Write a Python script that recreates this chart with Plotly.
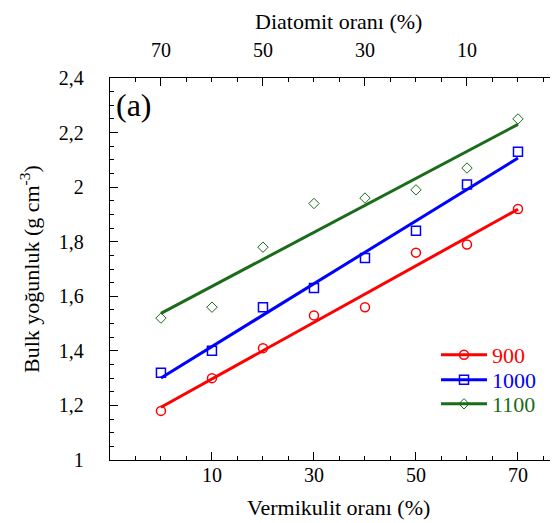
import numpy as np
import plotly.graph_objects as go

# ---- data ----
vermikulit = [0, 10, 20, 30, 40, 50, 60, 70]
bulk_900 = [1.18, 1.30, 1.41, 1.53, 1.56, 1.76, 1.79, 1.92]
bulk_1000 = [1.32, 1.40, 1.56, 1.63, 1.74, 1.84, 2.01, 2.13]
bulk_1100 = [1.52, 1.56, 1.78, 1.94, 1.96, 1.99, 2.07, 2.25]
series_names = ["900", "1000", "1100"]

colors = ["#ff0000", "#0000ff", "#1a6b1a"]
symbols = ["circle-open", "square-open", "diamond-open"]
msizes = [9, 9, 8]
mwidths = [1.5, 1.5, 1.0]

W, H = 558, 523
L, R, T, B = 102, 0, 70, 71
PW, PH = W - L - R, H - T - B
FONT = "Liberation Serif"

fig = go.Figure()
xs = np.array(vermikulit, dtype=float)
legend_ids = ["legend", "legend2", "legend3"]
legend_py = [347, 372, 396]
layout_legends = {}
for i, (name, vals, c, s, ms, mw) in enumerate(zip(series_names, [bulk_900, bulk_1000, bulk_1100],
                                                   colors, symbols, msizes, mwidths)):
    k, b0 = np.polyfit(xs, np.array(vals), 1)
    xe = [xs.min(), xs.max()]
    fig.add_trace(go.Scatter(x=xe, y=[k * v + b0 for v in xe], mode="lines",
                             line=dict(color=c, width=3), showlegend=False,
                             hoverinfo="skip"))
    fig.add_trace(go.Scatter(x=vermikulit, y=vals, mode="markers",
                             marker=dict(symbol=s, size=ms, color=c, line=dict(width=mw, color=c)),
                             showlegend=False, name=name))
    fig.add_trace(go.Scatter(x=[None], y=[None], mode="lines+markers",
                             line=dict(color=c, width=3), legend=legend_ids[i],
                             marker=dict(symbol=s, size=ms, color=c, line=dict(width=mw, color=c)),
                             name=f"<span style='color:{c}'>{name}</span>"))
    layout_legends[legend_ids[i]] = dict(
        x=(428 - L) / PW, y=(H - B - legend_py[i]) / PH, xanchor="left", yanchor="middle",
        bgcolor="rgba(0,0,0,0)", font=dict(family=FONT, size=22), itemwidth=46)

# invisible traces to activate top / right axes
fig.add_trace(go.Scatter(x=[None], y=[None], xaxis="x2", yaxis="y", showlegend=False))
fig.add_trace(go.Scatter(x=[None], y=[None], xaxis="x", yaxis="y2", showlegend=False))

xr = [-9.99, PW / 5.1 - 10]
tickfont = dict(family=FONT, size=20, color="black")
common = dict(showline=True, linecolor="black", linewidth=1.3, ticks="inside",
              tickcolor="black", ticklen=8, tickwidth=1.3, showgrid=False,
              zeroline=False, tickfont=tickfont)
minor = dict(ticks="inside", ticklen=4, tickcolor="black", tickwidth=1.1, showgrid=False)

fig.update_layout(
    width=W, height=H, margin=dict(l=L, r=R, t=T, b=B),
    paper_bgcolor="white", plot_bgcolor="white",
    separators=", ",
    font=dict(family=FONT, color="black"),
    xaxis=dict(range=xr, tick0=10, dtick=20, minor=dict(dtick=5, **minor),
               ticklabelstandoff=-3, **common),
    xaxis2=dict(range=[70 - xr[0], 70 - xr[1]], overlaying="x", side="top",
                anchor="y", tick0=10, dtick=20, minor=dict(dtick=5, **minor),
                ticklabelstandoff=12, **common),
    yaxis=dict(range=[1, 2.4], dtick=0.2, minor=dict(dtick=0.05, **minor),
               ticklabelstandoff=21, **common),
    yaxis2=dict(range=[1, 2.4], overlaying="y", side="right", anchor="x",
                showline=False, ticks="inside", ticklen=5, tickwidth=1.3, tickcolor="black",
                dtick=0.2, showticklabels=False, showgrid=False, zeroline=False,
                minor=dict(dtick=0.05, ticks="inside", ticklen=2, tickcolor="black", showgrid=False)),
    showlegend=True,
    annotations=[
        dict(text="Vermikulit oranı (%)", xref="paper", yref="paper", x=0.5, y=0,
             yshift=-47, xanchor="center", yanchor="middle", showarrow=False,
             font=dict(family=FONT, size=22)),
        dict(text="Diatomit oranı (%)", xref="paper", yref="paper", x=0.5, y=1,
             yshift=57, xanchor="center", yanchor="middle", showarrow=False,
             font=dict(family=FONT, size=22)),
        dict(text="Bulk yoğunluk (g cm<sup>-3</sup>)", xref="paper", yref="paper",
             x=0, y=0.5, xshift=-80, textangle=-90, xanchor="center", yanchor="middle",
             showarrow=False, font=dict(family=FONT, size=22)),
        dict(text="(a)", xref="paper", yref="paper", x=0, y=1, xshift=24, yshift=-27,
             xanchor="center", yanchor="middle", showarrow=False,
             font=dict(family=FONT, size=32)),
    ],
    **layout_legends,
)
fig.write_html("out.html")
